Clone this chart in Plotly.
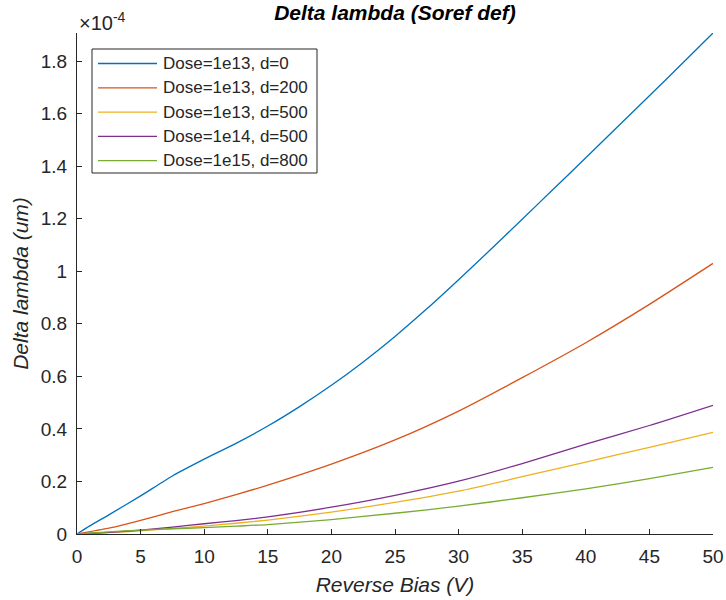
import plotly.graph_objects as go

# Reverse bias (V)
x_blue = [0, 1, 2.5, 5, 7.5, 10, 12.5, 15, 17.5, 20, 22.5, 25, 27.5, 30, 32.5, 35, 37.5, 40, 42.5, 45, 47.5, 50]
x_other = [0, 2.5, 5, 7.5, 10, 12.5, 15, 20, 25, 30, 35, 40, 45, 50]

# Delta lambda in units of 1e-4 um
blue = [0, 0.031, 0.073, 0.145, 0.221, 0.285, 0.345, 0.411, 0.485, 0.566, 0.655, 0.752, 0.857, 0.968,
        1.082, 1.198, 1.315, 1.432, 1.550, 1.668, 1.787, 1.907]
red = [0, 0.022, 0.052, 0.085, 0.116, 0.150, 0.186, 0.266, 0.358, 0.468, 0.595, 0.728, 0.874, 1.030]
yellow = [0, 0.005, 0.012, 0.021, 0.030, 0.041, 0.053, 0.083, 0.120, 0.163, 0.218, 0.274, 0.330, 0.387]
purple = [0, 0.006, 0.015, 0.026, 0.039, 0.051, 0.065, 0.102, 0.147, 0.201, 0.268, 0.342, 0.413, 0.490]
green = [0, 0.008, 0.015, 0.020, 0.024, 0.030, 0.036, 0.055, 0.079, 0.106, 0.138, 0.172, 0.211, 0.254]

names = ["Dose=1e13, d=0", "Dose=1e13, d=200", "Dose=1e13, d=500", "Dose=1e14, d=500", "Dose=1e15, d=800"]
colors = ["#0072BD", "#D95319", "#EDB120", "#7E2F8E", "#77AC30"]
series = [(x_blue, blue), (x_other, red), (x_other, yellow), (x_other, purple), (x_other, green)]

y_ticks = [0, 0.2, 0.4, 0.6, 0.8, 1.0, 1.2, 1.4, 1.6, 1.8]
y_ticktext = ["0", "0.2", "0.4", "0.6", "0.8", "1", "1.2", "1.4", "1.6", "1.8"]
x_ticks = [0, 5, 10, 15, 20, 25, 30, 35, 40, 45, 50]
SCALE = 1e-4

FONT = "Liberation Sans, Arial, sans-serif"
TXT = "#262626"

# plot-area geometry (pixels) used for the legend box placement
W, H = 726, 600
ML, MR, MT, MB = 77, 13, 33, 66
PW, PH = W - ML - MR, H - MT - MB


def px2x(px):
    return (px - ML) / PW


def py2y(py):
    return (H - MB - py) / PH


fig = go.Figure()
for (xs, ys), nm, c in zip(series, names, colors):
    fig.add_trace(go.Scatter(x=xs, y=[v * SCALE for v in ys], mode="lines", name=nm,
                             line=dict(color=c, width=1.3, shape="spline", smoothing=0.6)))

# MATLAB-style legend drawn with shapes + annotations
shapes = [dict(type="rect", xref="paper", yref="paper",
               x0=px2x(92), x1=px2x(317), y0=py2y(173), y1=py2y(49),
               line=dict(color="#262626", width=1), fillcolor="white", layer="above")]
annotations = []
for i, (nm, c) in enumerate(zip(names, colors)):
    row_y = py2y(63.5 + 24.3 * i)
    shapes.append(dict(type="line", xref="paper", yref="paper",
                       x0=px2x(98), x1=px2x(157), y0=row_y, y1=row_y,
                       line=dict(color=c, width=1.3), layer="above"))
    annotations.append(dict(text=nm, xref="paper", yref="paper", x=px2x(161), y=row_y,
                            xanchor="left", yanchor="middle", showarrow=False,
                            font=dict(size=17, color=TXT)))

annotations.append(dict(text="\u00d710<sup>-4</sup>", xref="paper", yref="paper", x=0, y=1,
                        xanchor="left", yanchor="bottom", yshift=-3, showarrow=False,
                        font=dict(size=20, color=TXT)))

fig.update_layout(
    width=W, height=H,
    margin=dict(l=ML, r=MR, t=MT, b=MB),
    paper_bgcolor="white", plot_bgcolor="white",
    font=dict(family=FONT, color=TXT, size=19),
    title=dict(text="<b><i>Delta lambda (Soref def)</i></b>", x=0.544, xanchor="center",
               y=1 - 13 / 600, yanchor="middle", font=dict(size=21, color="#000000")),
    showlegend=False,
    xaxis=dict(range=[0, 50], tickvals=x_ticks, ticks="inside", ticklen=5, tickcolor=TXT,
               showline=True, linecolor=TXT, linewidth=1, showgrid=False, zeroline=False,
               automargin=False,
               tickfont=dict(size=19, color=TXT), ticklabelstandoff=5,
               title=dict(text="<i>Reverse Bias (V)</i>", font=dict(size=21, color=TXT), standoff=11)),
    yaxis=dict(range=[0, 1.907 * SCALE], tickvals=[t * SCALE for t in y_ticks], ticktext=y_ticktext,
               ticks="inside", ticklen=5, tickcolor=TXT,
               showline=True, linecolor=TXT, linewidth=1, showgrid=False, zeroline=False,
               automargin=False,
               tickfont=dict(size=19, color=TXT), ticklabelstandoff=5,
               title=dict(text="<i>Delta lambda (um)</i>", font=dict(size=21, color=TXT), standoff=6)),
    shapes=shapes,
    annotations=annotations,
)

fig.write_html("out.html")
